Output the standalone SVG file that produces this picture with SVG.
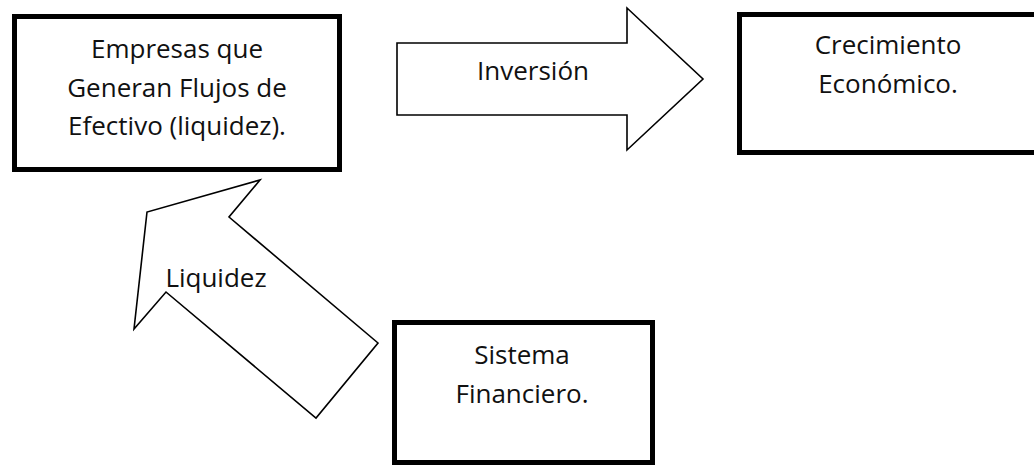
<svg xmlns="http://www.w3.org/2000/svg" width="1034" height="466" viewBox="0 0 1034 466">
<style>
.box{fill:#fff;stroke:#000;stroke-width:5}
.arrow{fill:#fff;stroke:#000;stroke-width:1.6;stroke-linejoin:miter}
.t{font-family:"Open Sans","Noto Sans",sans-serif;font-size:26px;fill:#111;text-anchor:middle}
</style>
<rect width="1034" height="466" fill="#fff"/>
<g id="connectors">
<g id="arrow-inversion">
<polygon class="arrow" points="397,43 627,43 627,8 703,79 627,150 627,115 397,115"/>
<text class="t" x="533" y="80">Inversión</text>
</g>
<g id="arrow-liquidez">
<polygon class="arrow" points="260,180 229,217 378,343 316,418 166,292 134,329 147,212"/>
<text class="t" x="216" y="287">Liquidez</text>
</g>
</g>
<g id="node-empresas">
<rect class="box" x="14.5" y="16.5" width="325" height="153"/>
<text class="t" x="177" y="58">Empresas que</text>
<text class="t" x="177" y="97">Generan Flujos de</text>
<text class="t" x="177" y="135">Efectivo (liquidez).</text>
</g>
<g id="node-crecimiento">
<rect class="box" x="739.5" y="14.5" width="300" height="138"/>
<text class="t" x="888" y="54">Crecimiento</text>
<text class="t" x="888" y="93">Económico.</text>
</g>
<g id="node-sistema">
<rect class="box" x="394.5" y="322.5" width="258" height="140"/>
<text class="t" x="522" y="364">Sistema</text>
<text class="t" x="522" y="403">Financiero.</text>
</g>
</svg>
